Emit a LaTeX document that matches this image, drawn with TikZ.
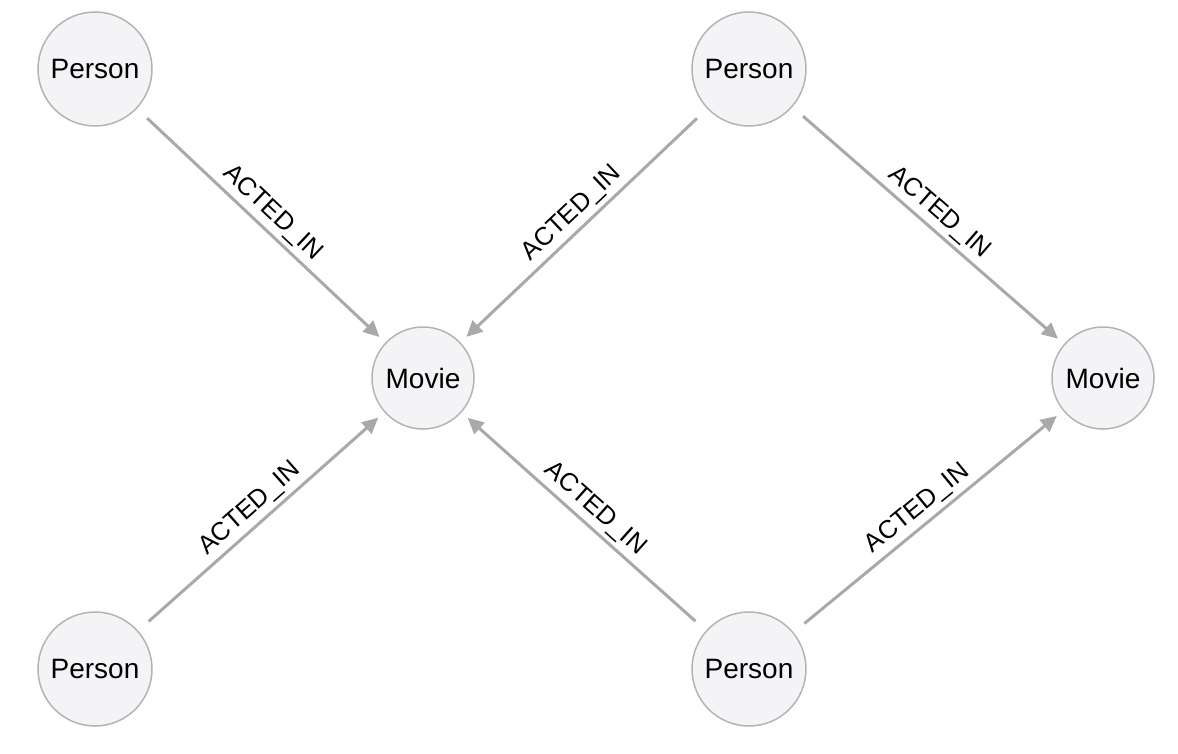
\documentclass[tikz,border=0pt]{standalone}
\usepackage{fontspec}
\setmainfont{Liberation Sans}
\usetikzlibrary{arrows.meta}
\definecolor{nodefill}{HTML}{F4F4F7}
\definecolor{nodeline}{HTML}{B4B4B4}
\definecolor{edgecol}{HTML}{A9A9A9}
\tikzset{
  person/.style={circle, draw=nodeline, fill=nodefill, line width=1.5pt, minimum size=114pt, inner sep=0pt, font=\fontsize{28}{32}\selectfont},
  movie/.style={circle, draw=nodeline, fill=nodefill, line width=1.5pt, minimum size=102pt, inner sep=0pt, font=\fontsize{28}{32}\selectfont},
  rel/.style={draw=edgecol, line width=3pt, -{Triangle[length=16pt,width=15pt]}, shorten <=14pt, shorten >=8pt},
  rellabel/.style={sloped, above, inner sep=4pt, font=\fontsize{25.5}{29}\selectfont}
}
\begin{document}
\begin{tikzpicture}[x=1pt,y=-1pt]
\useasboundingbox (0,0) rectangle (1178,754);
\node[person] (p1) at (95,69) {Person};
\node[person] (p2) at (749,69) {Person};
\node[person] (p3) at (95,669) {Person};
\node[person] (p4) at (749,669) {Person};
\node[movie] (m1) at (423,378) {Movie};
\node[movie] (m2) at (1103,378) {Movie};
\draw[rel] (p1) -- node[rellabel] {ACTED\_IN} (m1);
\draw[rel] (p2) -- node[rellabel] {ACTED\_IN} (m1);
\draw[rel] (p2) -- node[rellabel] {ACTED\_IN} (m2);
\draw[rel] (p3) -- node[rellabel] {ACTED\_IN} (m1);
\draw[rel] (p4) -- node[rellabel] {ACTED\_IN} (m1);
\draw[rel] (p4) -- node[rellabel] {ACTED\_IN} (m2);
\end{tikzpicture}
\end{document}
